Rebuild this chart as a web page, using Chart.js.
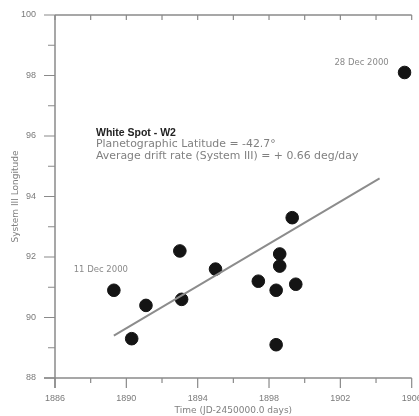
<!DOCTYPE html>
<html>
<head>
<meta charset="utf-8">
<script src="https://cdn.jsdelivr.net/npm/chart.js@4/dist/chart.umd.min.js"></script>
<style>
    html, body { margin: 0; padding: 0; background: #fff; }
    #wrap { width: 419px; height: 416px; }
</style>
</head>
<body>
<div id="wrap"><canvas id="myChart" width="419" height="416"></canvas></div>
<script>
"use strict";

// observed drift of the spot (JD-2450000, System III longitude)
const spotDays = [1889.3, 1890.3, 1891.1, 1893.0, 1893.1, 1895.0, 1897.4, 1898.6, 1898.6, 1898.4, 1899.5, 1898.4, 1899.3, 1905.6];
const spotLongitudes = [90.9, 89.3, 90.4, 92.2, 90.6, 91.6, 91.2, 92.1, 91.7, 90.9, 91.1, 89.1, 93.3, 98.1];

// linear fit
const fitDays = [1889.3, 1904.2];
const fitLongitudes = [89.4, 94.6];

const xTicks = [1886, 1890, 1894, 1898, 1902, 1906];
const yTicks = [88, 90, 92, 94, 96, 98, 100];

const dateLabels = ['11 Dec 2000', '28 Dec 2000'];
const infoTitle = 'White Spot - W2';
const infoLines = ['Planetographic Latitude = -42.7\u00B0', 'Average drift rate (System III) = + 0.66 deg/day'];

const axisColor = '#8a8a8a';
const fontName = "'Liberation Sans', Arial, sans-serif";
const wideFont = "'DejaVu Sans', sans-serif";

const points = spotDays.map((d, i) => ({x: d, y: spotLongitudes[i]}));
const fitLine = fitDays.map((d, i) => ({x: d, y: fitLongitudes[i]}));

const axesPlugin = {
    id: 'axesPlugin',
    beforeDatasetsDraw(chart) {
        const ctx = chart.ctx;
        const xs = chart.scales.x;
        const ys = chart.scales.y;
        const {left, right, top, bottom} = chart.chartArea;
        ctx.save();
        ctx.strokeStyle = axisColor;
        ctx.lineWidth = 1.5;
        ctx.beginPath();
        // frame: left, bottom, top
        ctx.moveTo(left, top); ctx.lineTo(left, bottom + 10);
        ctx.moveTo(left - 11, bottom); ctx.lineTo(right, bottom);
        ctx.moveTo(left, top); ctx.lineTo(right, top);
        ctx.stroke();

        ctx.lineWidth = 1.2;
        ctx.beginPath();
        for (let v = yTicks[0]; v <= yTicks[yTicks.length - 1]; v += 1) {
            const y = ys.getPixelForValue(v);
            const len = (v % 2 === 0) ? 11 : 7;
            ctx.moveTo(left - len, y); ctx.lineTo(left, y);
        }
        for (let v = xTicks[0]; v <= xTicks[xTicks.length - 1]; v += 2) {
            const x = xs.getPixelForValue(v);
            const len = ((v - xTicks[0]) % 4 === 0) ? 10 : 5;
            ctx.moveTo(x, bottom); ctx.lineTo(x, bottom + len);
            ctx.moveTo(x, top); ctx.lineTo(x, top + 5);
        }
        ctx.stroke();
        ctx.restore();
    },
    afterDatasetsDraw(chart) {
        const ctx = chart.ctx;
        const xs = chart.scales.x;
        const ys = chart.scales.y;
        const {left, top} = chart.chartArea;
        ctx.save();
        ctx.textBaseline = 'middle';
        ctx.textAlign = 'left';
        ctx.fillStyle = '#222';
        ctx.font = 'bold 10.5px ' + fontName;
        ctx.fillText(infoTitle, left + 41, top + 118);
        ctx.fillStyle = '#808080';
        ctx.font = '10.9px ' + wideFont;
        infoLines.forEach((t, i) => ctx.fillText(t, left + 41, top + 129.5 + i * 11.5));

        ctx.fillStyle = '#8a8a8a';
        ctx.font = '8.5px ' + wideFont;
        ctx.textAlign = 'center';
        const first = points[0];
        const last = points[points.length - 1];
        ctx.fillText(dateLabels[0], xs.getPixelForValue(first.x) - 13, ys.getPixelForValue(first.y) - 20);
        ctx.fillText(dateLabels[1], xs.getPixelForValue(last.x) - 43, ys.getPixelForValue(last.y) - 10);
        ctx.restore();
    }
};

const ctx = document.getElementById('myChart');

const chart = new Chart(ctx, {
    type: 'scatter',
    data: {
        datasets: [{
            type: 'line',
            data: fitLine,
            borderColor: '#8c8c8c',
            borderWidth: 2,
            pointRadius: 0,
            fill: false
        }, {
            data: points,
            backgroundColor: '#141414',
            borderColor: '#141414',
            pointRadius: 6.3,
            pointHoverRadius: 6.3
        }]
    },
    options: {
        responsive: false,
        animation: false,
        layout: {
            padding: {top: 15, right: 6, left: 0, bottom: 0}
        },
        plugins: {
            legend: {display: false},
            tooltip: {enabled: false}
        },
        scales: {
            x: {
                type: 'linear',
                min: xTicks[0],
                max: xTicks[xTicks.length - 1],
                afterBuildTicks: (scale) => {
                    scale.ticks = xTicks.map((v) => ({value: v}));
                },
                afterFit: (scale) => {
                    scale.height = 38;
                    scale.paddingLeft = 0;
                    scale.paddingRight = 0;
                },
                grid: {display: false, drawTicks: false},
                border: {display: false},
                ticks: {
                    padding: 15,
                    color: '#7a7a7a',
                    font: {size: 9, family: fontName},
                    maxRotation: 0,
                    autoSkip: false,
                    callback: (v) => String(v)
                },
                title: {
                    display: true,
                    text: 'Time (JD-2450000.0 days)',
                    color: '#808080',
                    font: {size: 9, family: wideFont},
                    padding: {top: 4, bottom: 0}
                }
            },
            y: {
                type: 'linear',
                min: yTicks[0],
                max: yTicks[yTicks.length - 1],
                afterBuildTicks: (scale) => {
                    scale.ticks = yTicks.map((v) => ({value: v}));
                },
                afterFit: (scale) => {
                    scale.width = 55;
                    scale.paddingTop = 0;
                    scale.paddingBottom = 0;
                },
                grid: {display: false, drawTicks: false},
                border: {display: false},
                ticks: {
                    padding: 19,
                    color: '#7a7a7a',
                    font: {size: 9, family: fontName},
                    callback: (v) => String(v)
                },
                title: {
                    display: true,
                    text: 'System III Longitude',
                    color: '#808080',
                    font: {size: 9, family: wideFont},
                    padding: {top: 10, bottom: 0}
                }
            }
        }
    },
    plugins: [axesPlugin]
});
</script>
</body>
</html>
